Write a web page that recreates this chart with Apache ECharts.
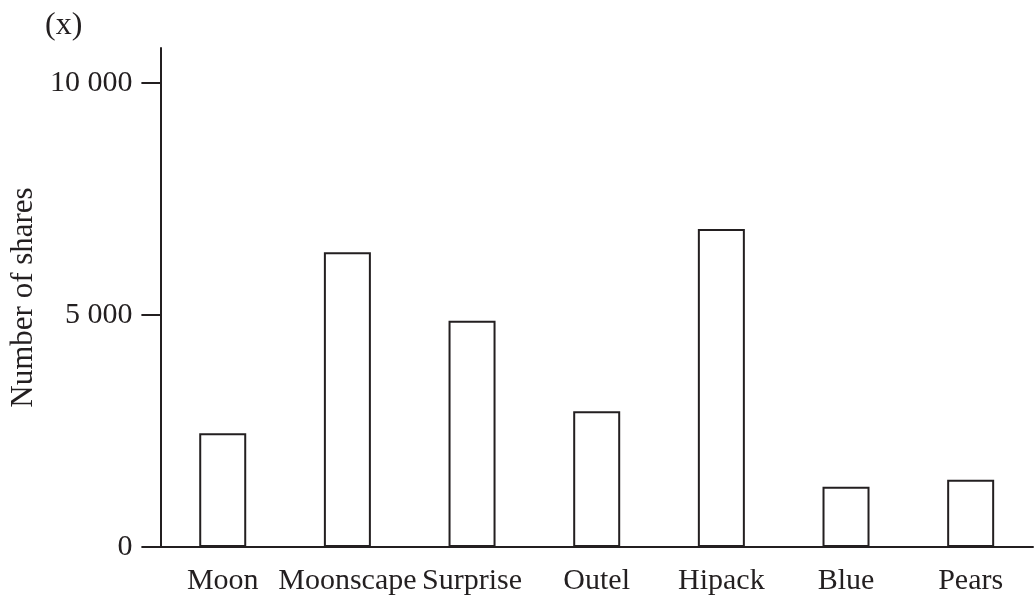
<!DOCTYPE html>
<html>
<head>
<meta charset="utf-8">
<script src="https://cdn.jsdelivr.net/npm/echarts@6/dist/echarts.min.js"></script>
<style>
html,body{margin:0;padding:0;background:#fff;}
#chart{width:1035px;height:602px;}
</style>
</head>
<body>
<div id="chart"></div>
<script>
const categories = ['Moon', 'Moonscape', 'Surprise', 'Outel', 'Hipack', 'Blue', 'Pears'];
const shares = [2450, 6350, 4875, 2925, 6850, 1300, 1450];
const yTicks = [0, 5000, 10000];
const panelLabel = '(x)';
const yTitle = 'Number of shares';

const ink = '#231f20';
const font = 'Liberation Serif';

const chart = echarts.init(document.getElementById('chart'), null, {renderer: 'canvas'});
chart.setOption({
  animation: false,
  backgroundColor: '#fff',
  title: {
    text: panelLabel,
    left: 40,
    top: 5,
    textStyle: {fontFamily: font, fontSize: 32, fontWeight: 'normal', color: ink}
  },
  grid: {left: 156, right: 2, top: 48, bottom: 55, containLabel: false},
  xAxis: {
    type: 'category',
    data: categories,
    axisLine: {lineStyle: {color: ink, width: 2}},
    axisTick: {show: false},
    axisLabel: {fontFamily: font, fontSize: 30, color: ink, margin: 19, interval: 0}
  },
  yAxis: {
    type: 'value',
    min: 0,
    max: 10750,
    interval: 5000,
    name: yTitle,
    nameLocation: 'middle',
    nameGap: 118,
    nameTextStyle: {fontFamily: font, fontSize: 31, color: ink},
    splitLine: {show: false},
    axisLine: {show: true, lineStyle: {color: ink, width: 2}},
    axisTick: {show: true, length: 19, inside: false, lineStyle: {color: ink, width: 2}, customValues: yTicks},
    axisLabel: {
      fontFamily: font, fontSize: 30, color: ink, margin: 28,
      customValues: yTicks,
      formatter: v => String(v).replace(/\B(?=(\d{3})+(?!\d))/g, ' ')
    }
  },
  series: [{
    type: 'bar',
    data: shares,
    barWidth: 47,
    itemStyle: {color: '#fff', borderColor: ink, borderWidth: 2}
  }]
});
</script>
</body>
</html>
